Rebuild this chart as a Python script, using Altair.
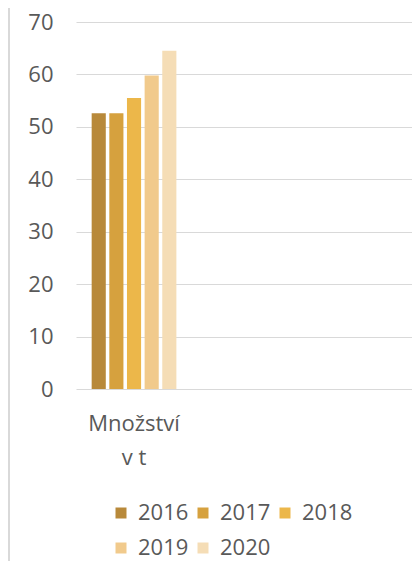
import altair as alt
import pandas as pd

categories = ["Množství v t"]
years = ["2016", "2017", "2018", "2019", "2020"]
values = [52.6, 52.6, 55.5, 59.8, 64.5]
colors = ["#B8893A", "#D6A13E", "#ECB74A", "#F1CA8C", "#F5DDB6"]
y_ticks = [0, 10, 20, 30, 40, 50, 60, 70]

df = pd.DataFrame({
    "kategorie": [categories[0]] * len(years),
    "rok": years,
    "hodnota": values,
})

FONT = "Open Sans"
GRAY = "#595959"

bars = alt.Chart(df).mark_bar().encode(
    x=alt.X(
        "kategorie:N",
        scale=alt.Scale(domain=categories + [" ", "  "], paddingInner=0.1975, paddingOuter=0.1264),
        axis=alt.Axis(
            title=None,
            labelAngle=0,
            domain=False,
            ticks=False,
            labelFontSize=22,
            labelFont=FONT,
            labelColor=GRAY,
            labelPadding=24,
            labelLineHeight=34,
            labelExpr="datum.label == 'Množství v t' ? ['Množství', 'v t'] : ''",
        ),
    ),
    xOffset=alt.XOffset("rok:N", scale=alt.Scale(paddingInner=0.2, paddingOuter=0.1)),
    y=alt.Y(
        "hodnota:Q",
        scale=alt.Scale(domain=[0, 70], nice=False),
        axis=alt.Axis(
            title=None,
            values=y_ticks,
            domain=False,
            ticks=False,
            labelFontSize=22,
            labelFont=FONT,
            labelColor=GRAY,
            labelPadding=23,
            gridColor="#D9D9D9",
            gridWidth=1,
        ),
    ),
    color=alt.Color(
        "rok:N",
        scale=alt.Scale(domain=years, range=colors),
        legend=alt.Legend(
            title=None,
            orient="none",
            direction="horizontal",
            legendX=34,
            legendY=480,
            columns=3,
            symbolType="square",
            symbolSize=121,
            symbolStrokeWidth=0,
            labelFontSize=22,
            labelFont=FONT,
            labelColor=GRAY,
            labelOffset=6,
            columnPadding=3,
            rowPadding=13,
            padding=0,
        ),
    ),
)

frame = alt.Chart(df).mark_rule(color="#D9D9D9", strokeWidth=2).encode(
    x=alt.value(-67),
    y=alt.value(-14),
    y2=alt.value(545),
)

chart = alt.layer(frame, bars).properties(
    width=336,
    height=367,
    padding={"left": 68, "top": 14, "right": 0, "bottom": 172},
    autosize=alt.AutoSizeParams(type="none"),
).configure_view(stroke=None)

chart.save("out.html", embed_options={"renderer": "svg", "actions": False})
